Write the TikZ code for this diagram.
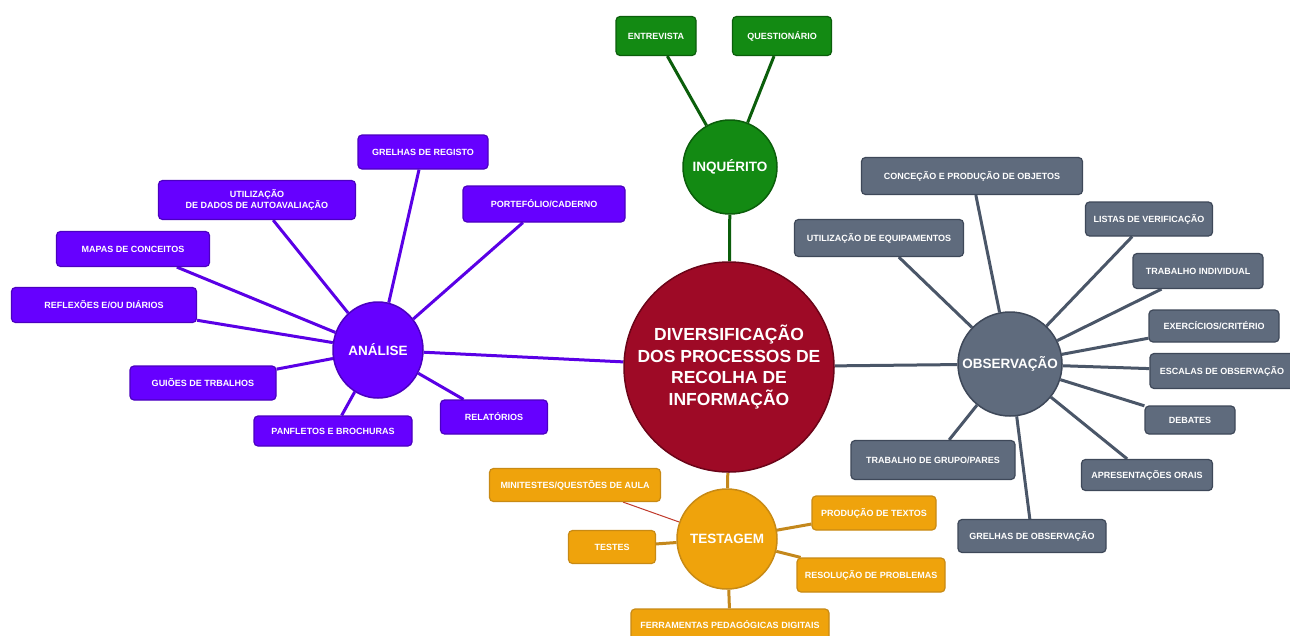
\documentclass[tikz,border=0pt]{standalone}
\usepackage{fontspec}
\setmainfont{Liberation Sans}
\usetikzlibrary{shapes.geometric,backgrounds}
\definecolor{purp}{HTML}{6600FF}
\definecolor{purpline}{HTML}{5A00E6}
\definecolor{purpdark}{HTML}{4B00C0}
\definecolor{grn}{HTML}{138A13}
\definecolor{grndark}{HTML}{0B5E0B}
\definecolor{maroon}{HTML}{9E0A26}
\definecolor{maroondark}{HTML}{6B0418}
\definecolor{slate}{HTML}{5F6B7D}
\definecolor{slatedark}{HTML}{3E4859}
\definecolor{slateline}{HTML}{4A5668}
\definecolor{orng}{HTML}{EFA30C}
\definecolor{orngdark}{HTML}{C88A14}
\definecolor{orngline}{HTML}{C4881C}
\definecolor{redline}{HTML}{C0392B}
\tikzset{
  leaf/.style={rounded corners=4pt, draw, line width=1.2pt, text=white,
    font=\fontsize{9}{11}\selectfont\bfseries, align=center, inner sep=0pt},
  purpbox/.style={leaf, fill=purp, draw=purpdark},
  greenbox/.style={leaf, fill=grn, draw=grndark},
  slatebox/.style={leaf, fill=slate, draw=slatedark},
  orangebox/.style={leaf, fill=orng, draw=orngdark},
  hub/.style={circle, draw, line width=1.5pt, text=white,
    font=\fontsize{13.5}{15}\selectfont\bfseries, inner sep=0pt, align=center},
  purpcon/.style={draw=purpline, line width=3pt},
  greencon/.style={draw=grndark, line width=3pt},
  slatecon/.style={draw=slateline, line width=3pt},
  orangecon/.style={draw=orngline, line width=3pt},
  redcon/.style={draw=redline, line width=1pt},
}
\begin{document}
\begin{tikzpicture}[x=1pt,y=-1pt]
\useasboundingbox (0,0) rectangle (1290,635);

% core
\node[hub, fill=maroon, draw=maroondark, minimum size=210pt,
  font=\fontsize{17.5}{21.5}\selectfont\bfseries] (core) at (729,367)
  {DIVERSIFICAÇÃO\\DOS PROCESSOS DE\\RECOLHA DE\\INFORMAÇÃO};

% hubs
\node[hub, fill=grn, draw=grndark, minimum size=94pt] (inq) at (730,167) {INQUÉRITO};
\node[hub, ellipse, fill=purp, draw=purpdark, minimum width=90pt, minimum height=96pt] (ana) at (378,350) {ANÁLISE};
\node[hub, fill=slate, draw=slatedark, minimum size=104pt] (obs) at (1010,364) {OBSERVAÇÃO};
\node[hub, fill=orng, draw=orngdark, minimum size=100pt] (tes) at (727,539) {TESTAGEM};

% inquerito leaves
\node[greenbox, minimum width=80pt, minimum height=39pt] (ent) at (656,36) {ENTREVISTA};
\node[greenbox, minimum width=99pt, minimum height=39pt] (que) at (782,36) {QUESTIONÁRIO};

% analise leaves
\node[purpbox, minimum width=130pt, minimum height=34pt] (grelhas) at (423,152) {GRELHAS DE REGISTO};
\node[purpbox, minimum width=197pt, minimum height=39pt] (util) at (257,200) {UTILIZAÇÃO\\DE DADOS DE AUTOAVALIAÇÃO};
\node[purpbox, minimum width=162pt, minimum height=36pt] (port) at (544,204) {PORTEFÓLIO/CADERNO};
\node[purpbox, minimum width=153pt, minimum height=35pt] (mapas) at (133,249) {MAPAS DE CONCEITOS};
\node[purpbox, minimum width=185pt, minimum height=35pt] (refl) at (104,305) {REFLEXÕES E/OU DIÁRIOS};
\node[purpbox, minimum width=146pt, minimum height=34pt] (guioes) at (203,383) {GUIÕES DE TRBALHOS};
\node[purpbox, minimum width=158pt, minimum height=30pt] (panf) at (333,431) {PANFLETOS E BROCHURAS};
\node[purpbox, minimum width=107pt, minimum height=34pt] (rel) at (494,417) {RELATÓRIOS};

% observacao leaves
\node[slatebox, minimum width=221pt, minimum height=37pt] (conc) at (972,176) {CONCEÇÃO E PRODUÇÃO DE OBJETOS};
\node[slatebox, minimum width=169pt, minimum height=37pt] (uteq) at (879,238) {UTILIZAÇÃO DE EQUIPAMENTOS};
\node[slatebox, minimum width=127pt, minimum height=34pt] (listas) at (1149,219) {LISTAS DE VERIFICAÇÃO};
\node[slatebox, minimum width=130pt, minimum height=35pt] (trind) at (1198,271) {TRABALHO INDIVIDUAL};
\node[slatebox, minimum width=130pt, minimum height=32pt] (exer) at (1214,326) {EXERCÍCIOS/CRITÉRIO};
\node[slatebox, minimum width=144pt, minimum height=35pt] (esc) at (1222,371) {ESCALAS DE OBSERVAÇÃO};
\node[slatebox, minimum width=90pt, minimum height=28pt] (deb) at (1190,420) {DEBATES};
\node[slatebox, minimum width=131pt, minimum height=31pt] (apres) at (1147,475) {APRESENTAÇÕES ORAIS};
\node[slatebox, minimum width=148pt, minimum height=33pt] (grobs) at (1032,536) {GRELHAS DE OBSERVAÇÃO};
\node[slatebox, minimum width=164pt, minimum height=39pt] (trgr) at (933,460) {TRABALHO DE GRUPO/PARES};

% testagem leaves
\node[orangebox, minimum width=171pt, minimum height=33pt] (mini) at (575,485) {MINITESTES/QUESTÕES DE AULA};
\node[orangebox, minimum width=87pt, minimum height=33pt] (testes) at (612,547) {TESTES};
\node[orangebox, minimum width=124pt, minimum height=34pt] (prod) at (874,513) {PRODUÇÃO DE TEXTOS};
\node[orangebox, minimum width=148pt, minimum height=34pt] (resol) at (871,575) {RESOLUÇÃO DE PROBLEMAS};
\node[orangebox, minimum width=198pt, minimum height=32pt] (ferr) at (730,625) {FERRAMENTAS PEDAGÓGICAS DIGITAIS};

\begin{pgfonlayer}{background}
\fill[white] (0,0) rectangle (1290,635);
\draw[greencon] (core) -- (inq);
\draw[purpcon] (core) -- (ana);
\draw[slatecon] (core) -- (obs);
\draw[orangecon] (core) -- (tes);

\draw[greencon] (inq) -- (ent);
\draw[greencon] (inq) -- (que);

\foreach \n in {grelhas,util,port,mapas,refl,guioes,panf,rel}
  \draw[purpcon] (ana) -- (\n);

\foreach \n in {conc,uteq,listas,trind,exer,esc,deb,apres,grobs,trgr}
  \draw[slatecon] (obs) -- (\n);

\draw[redcon] (tes) -- (mini);
\foreach \n in {testes,prod,resol,ferr}
  \draw[orangecon] (tes) -- (\n);
\end{pgfonlayer}
\end{tikzpicture}
\end{document}
